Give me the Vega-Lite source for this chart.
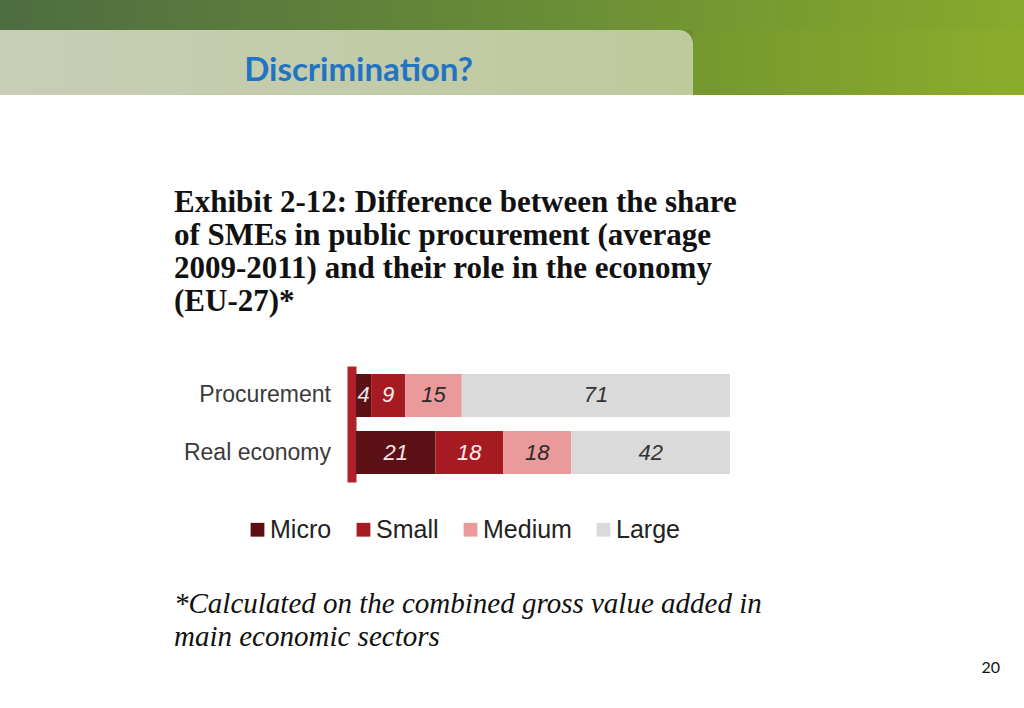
{
  "$schema": "https://vega.github.io/schema/vega-lite/v6.json",
  "padding": 0,
  "background": "white",
  "spacing": 92,
  "config": {"view": {"stroke": null}, "concat": {"spacing": 0}},
  "datasets": {
    "shares": [
      {"Source": "Procurement", "Size": "Micro", "Rank": 1, "Share": 4},
      {"Source": "Procurement", "Size": "Small", "Rank": 2, "Share": 9},
      {"Source": "Procurement", "Size": "Medium", "Rank": 3, "Share": 15},
      {"Source": "Procurement", "Size": "Large", "Rank": 4, "Share": 71},
      {"Source": "Real economy", "Size": "Micro", "Rank": 1, "Share": 21},
      {"Source": "Real economy", "Size": "Small", "Rank": 2, "Share": 18},
      {"Source": "Real economy", "Size": "Medium", "Rank": 3, "Share": 18},
      {"Source": "Real economy", "Size": "Large", "Rank": 4, "Share": 42}
    ],
    "heading": [{"label": "Discrimination?"}]
  },
  "title": {
    "text": "20",
    "orient": "bottom",
    "anchor": "end",
    "font": "Lato",
    "fontSize": 16,
    "fontWeight": "normal",
    "color": "#111111",
    "dx": -24,
    "offset": 8
  },
  "vconcat": [
    {
      "spacing": 0,
      "vconcat": [
        {
          "width": 1024,
          "height": 30,
          "data": {"name": "heading"},
          "mark": {
            "type": "rect",
            "fill": {
              "gradient": "linear", "x1": 0, "y1": 0, "x2": 1, "y2": 0,
              "stops": [
                {"offset": 0, "color": "#4d6d42"},
                {"offset": 0.5, "color": "#678b37"},
                {"offset": 1, "color": "#88aa2c"}
              ]
            }
          },
          "encoding": {}
        },
        {
          "spacing": 0,
          "hconcat": [
            {
              "width": 693,
              "height": 65,
              "view": {"fill": "#6a8d36"},
              "data": {"name": "heading"},
              "layer": [
                {
                  "mark": {
                    "type": "rect",
                    "cornerRadiusTopRight": 14,
                    "fill": {
                      "gradient": "linear", "x1": 0, "y1": 0, "x2": 1, "y2": 0,
                      "stops": [
                        {"offset": 0, "color": "#c8ceb6"},
                        {"offset": 1, "color": "#bec99c"}
                      ]
                    }
                  },
                  "encoding": {}
                },
                {
                  "mark": {
                    "type": "text",
                    "font": "Lato",
                    "fontWeight": "bold",
                    "fontSize": 33,
                    "fill": "#1f74c4",
                    "dx": 12,
                    "dy": 8
                  },
                  "encoding": {"text": {"field": "label"}}
                }
              ]
            },
            {
              "width": 331,
              "height": 65,
              "data": {"name": "heading"},
              "mark": {
                "type": "rect",
                "fill": {
                  "gradient": "linear", "x1": 0, "y1": 0, "x2": 1, "y2": 0,
                  "stops": [
                    {"offset": 0, "color": "#74982f"},
                    {"offset": 1, "color": "#8cad2b"}
                  ]
                }
              },
              "encoding": {}
            }
          ]
        }
      ]
    },
    {
      "spacing": 0,
      "hconcat": [
        {
          "width": 174,
          "height": 1,
          "data": {"name": "heading"},
          "mark": {"type": "rect", "opacity": 0},
          "encoding": {}
        },
        {
          "title": {
            "text": ["*Calculated on the combined gross value added in", "main economic sectors"],
            "orient": "bottom",
            "anchor": "start",
            "frame": "bounds",
            "font": "Liberation Serif",
            "fontStyle": "italic",
            "fontWeight": "normal",
            "fontSize": 29,
            "lineHeight": 33,
            "color": "#111111",
            "offset": 47
          },
          "vconcat": [
            {
              "width": 374,
              "height": 116,
              "data": {"name": "shares"},
              "title": {
                "text": [
                  "Exhibit 2-12: Difference between the share",
                  "of SMEs in public procurement (average",
                  "2009-2011) and their role in the economy",
                  "(EU-27)*"
                ],
                "anchor": "start",
                "frame": "group",
                "dx": -182,
                "font": "Liberation Serif",
                "fontSize": 31,
                "fontWeight": "bold",
                "lineHeight": 33,
                "color": "#111111",
                "offset": 48
              },
              "encoding": {
                "y": {
                  "field": "Source",
                  "type": "nominal",
                  "sort": ["Procurement", "Real economy"],
                  "scale": {"paddingInner": 0.2456, "paddingOuter": 0.14},
                  "axis": {
                    "title": null,
                    "ticks": false,
                    "tickSize": 0,
                    "labelPadding": 21,
                    "labelFont": "Liberation Sans",
                    "labelFontSize": 23,
                    "labelColor": "#3a3a3a",
                    "domainColor": "#b0202a",
                    "domainWidth": 9,
                    "domainCap": "butt",
                    "offset": 4.5
                  }
                },
                "x": {
                  "field": "Share",
                  "type": "quantitative",
                  "stack": "zero",
                  "scale": {"domain": [0, 99], "nice": false},
                  "axis": null
                },
                "order": {"field": "Rank", "type": "quantitative"}
              },
              "layer": [
                {
                  "mark": {"type": "bar"},
                  "encoding": {
                    "color": {
                      "field": "Size",
                      "type": "nominal",
                      "sort": ["Micro", "Small", "Medium", "Large"],
                      "scale": {
                        "domain": ["Micro", "Small", "Medium", "Large"],
                        "range": ["#5a1014", "#a61b21", "#ea9a9a", "#dadada"]
                      },
                      "legend": {
                        "title": null,
                        "orient": "none",
                        "direction": "horizontal",
                        "legendX": -111,
                        "legendY": 151,
                        "symbolType": "square",
                        "symbolSize": 190,
                        "symbolOpacity": 1,
                        "symbolStrokeWidth": 0,
                        "labelFont": "Liberation Sans",
                        "labelFontSize": 25,
                        "labelColor": "#222222",
                        "labelOffset": 0,
                        "columnPadding": 19
                      }
                    }
                  }
                },
                {
                  "mark": {
                    "type": "text",
                    "font": "Liberation Sans",
                    "fontStyle": "italic",
                    "fontSize": 22
                  },
                  "encoding": {
                    "x": {
                      "field": "Share",
                      "type": "quantitative",
                      "stack": "zero",
                      "bandPosition": 0.5
                    },
                    "text": {"field": "Share", "type": "quantitative"},
                    "color": {
                      "field": "Size",
                      "type": "nominal",
                      "sort": ["Micro", "Small", "Medium", "Large"],
                      "scale": {
                        "domain": ["Micro", "Small", "Medium", "Large"],
                        "range": ["#f4e6e6", "#fbeeee", "#2a2a2a", "#333333"]
                      },
                      "legend": null
                    }
                  }
                }
              ],
              "resolve": {"scale": {"color": "independent"}}
            }
          ]
        }
      ]
    }
  ]
}
